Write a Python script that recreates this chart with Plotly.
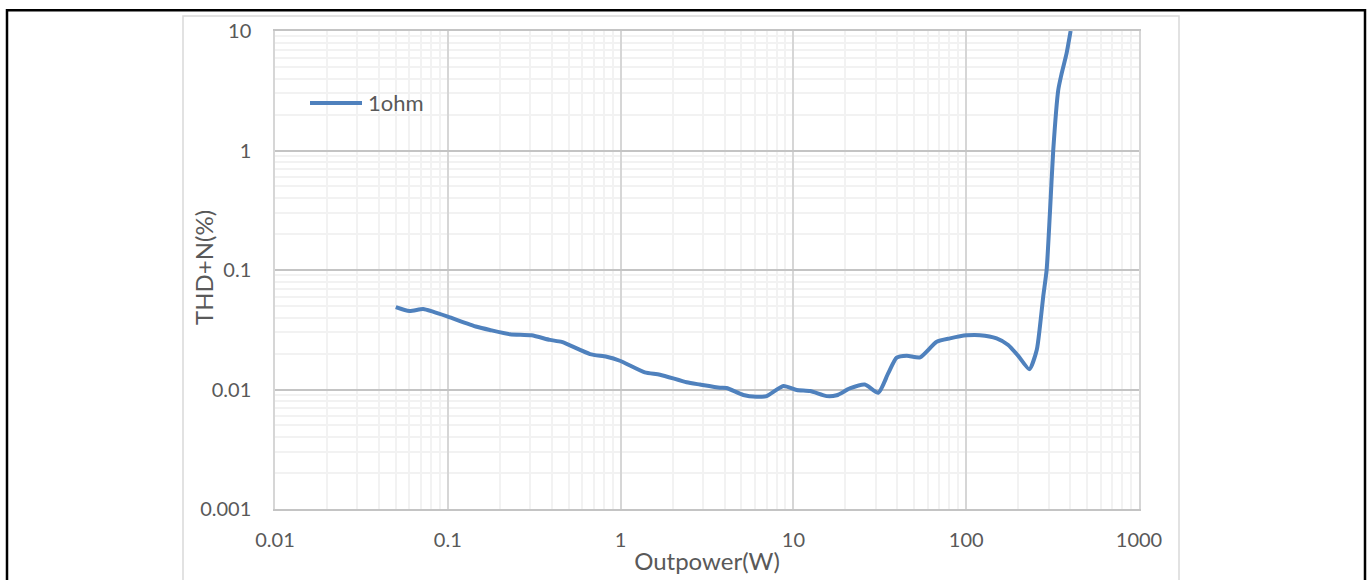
import plotly.graph_objects as go

# Data
power_w = [0.050, 0.060, 0.072, 0.082, 0.100, 0.147, 0.175, 0.229, 0.305, 0.39,
           0.456, 0.665, 0.83, 0.99, 1.38, 1.69, 2.41, 2.88, 3.76, 4.1,
           5.13, 6.13, 7.0, 8.75, 10.45, 12.5, 15.6, 17.8, 21.2, 25.9,
           31.0, 35.4, 39.6, 45.3, 54.1, 67.5, 80.6, 100.7, 120, 150,
           175, 200, 232, 256, 267, 279, 292, 305, 319, 341,
           357, 381, 402]
thd_pct = [0.049, 0.0454, 0.0472, 0.0448, 0.0407, 0.0335, 0.0315, 0.0290, 0.0284, 0.0260,
           0.0250, 0.0198, 0.0188, 0.0174, 0.0139, 0.0133, 0.0115, 0.0110, 0.01035, 0.0103,
           0.0090, 0.0087, 0.0088, 0.0107, 0.0099, 0.0097, 0.0088, 0.00895, 0.0102, 0.0110,
           0.0094, 0.0137, 0.0185, 0.0192, 0.0186, 0.0251, 0.0268, 0.0284, 0.0285, 0.0268,
           0.0236, 0.0191, 0.0148, 0.0214, 0.0335, 0.0598, 0.1, 0.298, 1.01, 3.21,
           4.43, 6.5, 10.0]
series_name = "1ohm"

x_tickvals = [0.01, 0.1, 1, 10, 100, 1000]
x_ticktext = ["0.01", "0.1", "1", "10", "100", "1000"]
y_tickvals = [0.001, 0.01, 0.1, 1, 10]
y_ticktext = ["0.001", "0.01", "0.1", "1", "10"]

x_title = "Outpower(W)"
y_title = "THD+N(%)"

def minor_vals(lo_exp, hi_exp):
    vals = []
    for e in range(lo_exp, hi_exp):
        for m in range(2, 10):
            vals.append(m * 10 ** e)
    return vals

FONT = "Lato"
TXT = "#595959"
LINE_COLOR = "#4F81BD"
W, H = 1370, 580
L, R, T, B = 275, 1370 - 1139, 31, 580 - 509
PW, PH = W - L - R, H - T - B

def px(xp):
    return (xp - L) / PW

def py(yp):
    return (H - B - yp) / PH

fig = go.Figure()
fig.add_trace(go.Scatter(
    x=power_w, y=thd_pct, name=series_name, mode="lines",
    line=dict(color=LINE_COLOR, width=4, shape="spline", smoothing=0.6),
    showlegend=False,
))

fig.update_xaxes(
    type="log", range=[-2, 3], tickmode="array", tickvals=x_tickvals, ticktext=x_ticktext,
    showgrid=True, gridcolor="#d6d6d6", gridwidth=1.8,
    minor=dict(tickmode="array", tickvals=minor_vals(-2, 3), showgrid=True,
               gridcolor="#f2f2f2", gridwidth=1.8, ticks=""),
    showline=True, linecolor="#c4c4c4", linewidth=1.5, mirror=True,
    ticks="outside", ticklen=12, tickcolor="rgba(0,0,0,0)",
    tickfont=dict(family=FONT, size=20, color=TXT),
    title=dict(text=x_title, font=dict(family=FONT, size=24, color=TXT), standoff=3),
    zeroline=False, automargin=False,
)
fig.update_yaxes(
    type="log", range=[-3, 1], tickmode="array", tickvals=y_tickvals, ticktext=y_ticktext,
    showgrid=True, gridcolor="#c4c4c4", gridwidth=1.8,
    minor=dict(tickmode="array", tickvals=minor_vals(-3, 1), showgrid=True,
               gridcolor="#f2f2f2", gridwidth=1.8, ticks=""),
    showline=True, linecolor="#d6d6d6", linewidth=1.5, mirror=True,
    ticks="outside", ticklen=18, tickcolor="rgba(0,0,0,0)",
    tickfont=dict(family=FONT, size=20, color=TXT),
    zeroline=False, automargin=False,
)

shapes = [
    # outer black frame
    dict(type="rect", xref="paper", yref="paper",
         x0=px(7), x1=px(1365), y0=py(620), y1=py(10.3),
         line=dict(color="black", width=2.5), fillcolor="rgba(0,0,0,0)", layer="above"),
    # chart area border
    dict(type="rect", xref="paper", yref="paper",
         x0=px(183), x1=px(1179), y0=py(620), y1=py(16),
         line=dict(color="#d9d9d9", width=1.5), fillcolor="rgba(0,0,0,0)", layer="below"),
    # legend sample line
    dict(type="line", xref="paper", yref="paper",
         x0=px(310), x1=px(362), y0=py(103), y1=py(103),
         line=dict(color=LINE_COLOR, width=4), layer="above"),
]

annotations = [
    dict(text=series_name, xref="paper", yref="paper", x=px(366), y=py(103),
         xanchor="left", yanchor="middle", showarrow=False,
         font=dict(family=FONT, size=22, color=TXT)),
    dict(text=y_title, xref="paper", yref="paper", x=px(203), y=py(268),
         xanchor="center", yanchor="middle", textangle=-90, showarrow=False,
         font=dict(family=FONT, size=24, color=TXT)),
]

fig.update_layout(
    width=W, height=H,
    margin=dict(l=L, r=R, t=T, b=B, pad=0, autoexpand=False),
    paper_bgcolor="white", plot_bgcolor="white",
    showlegend=False,
    shapes=shapes, annotations=annotations,
)

fig.write_html("out.html")
